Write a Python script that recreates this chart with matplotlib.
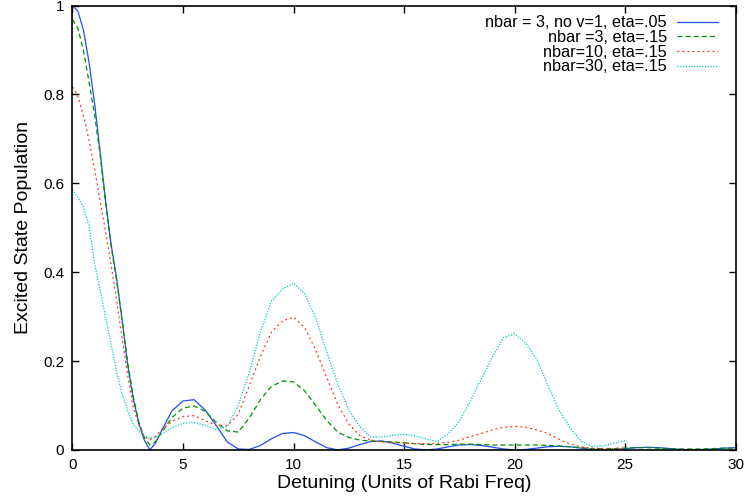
import matplotlib
matplotlib.use("Agg")
import matplotlib.pyplot as plt
import numpy as np

# detuning grid: fine steps through the main lobe, half steps after
detuning = [0, 0.25, 0.5, 0.75, 1.0, 1.25, 1.5, 1.75, 2.0, 2.25, 2.5, 2.75,
            3.0, 3.25, 3.5, 3.75, 4.0, 4.5, 5.0, 5.5, 6.0, 6.5, 7.0, 7.5,
            8.0, 8.5, 9.0, 9.5, 10.0, 10.5, 11.0, 11.5, 12.0, 12.5, 13.0,
            13.5, 14.0, 14.5, 15.0, 15.5, 16.0, 16.5, 17.0, 17.5, 18.0,
            18.5, 19.0, 19.5, 20.0, 20.5, 21.0, 21.5, 22.0, 22.5, 23.0,
            23.5, 24.0, 24.5, 25.0, 25.5, 26.0, 26.5, 27.0, 27.5, 28.0,
            28.5, 29.0, 29.5, 30.0]

pop_n3_eta05 = [1.0, 0.987, 0.944, 0.872, 0.78, 0.672, 0.56, 0.462, 0.385,
                0.29, 0.19, 0.115, 0.06, 0.022, 0.0, 0.015, 0.04, 0.088,
                0.11, 0.113, 0.09, 0.055, 0.018, 0.002, 0.001, 0.01, 0.025,
                0.037, 0.039, 0.032, 0.018, 0.005, 0.0, 0.004, 0.012, 0.019,
                0.02, 0.015, 0.008, 0.002, 0.0, 0.002, 0.007, 0.011, 0.012,
                0.01, 0.006, 0.002, 0.0, 0.001, 0.004, 0.007, 0.008, 0.007,
                0.004, 0.001, 0.0, 0.001, 0.003, 0.005, 0.006, 0.005, 0.003,
                0.001, 0.0, 0.001, 0.002, 0.004, 0.005]

pop_n3_eta15 = [0.969, 0.948, 0.898, 0.828, 0.755, 0.665, 0.555, 0.458,
                0.38, 0.29, 0.195, 0.12, 0.063, 0.027, 0.011, 0.018, 0.037,
                0.073, 0.094, 0.099, 0.087, 0.062, 0.043, 0.04, 0.072,
                0.113, 0.143, 0.155, 0.153, 0.133, 0.1, 0.066, 0.04, 0.028,
                0.022, 0.02, 0.019, 0.018, 0.016, 0.014, 0.012, 0.012,
                0.012, 0.013, 0.013, 0.012, 0.011, 0.011, 0.011, 0.011,
                0.011, 0.01, 0.009, 0.007, 0.005, 0.003, 0.003, 0.003,
                0.004, 0.005, 0.005, 0.004, 0.003, 0.002, 0.002, 0.002,
                0.003, 0.004, 0.004]

# the nbar=10 and nbar=30 runs stop at 25
pop_n10_eta15 = [0.817, 0.795, 0.752, 0.697, 0.632, 0.56, 0.49, 0.416,
                 0.335, 0.25, 0.167, 0.095, 0.057, 0.03, 0.023, 0.03, 0.045,
                 0.064, 0.075, 0.077, 0.066, 0.055, 0.055, 0.08, 0.145,
                 0.21, 0.265, 0.29, 0.299, 0.275, 0.225, 0.163, 0.102,
                 0.058, 0.032, 0.022, 0.018, 0.016, 0.015, 0.014, 0.014,
                 0.015, 0.017, 0.022, 0.03, 0.037, 0.045, 0.051, 0.053,
                 0.051, 0.045, 0.037, 0.024, 0.013, 0.007, 0.004, 0.003,
                 0.003, 0.004]

pop_n30_eta15 = [0.585, 0.568, 0.545, 0.505, 0.42, 0.36, 0.298, 0.237,
                 0.175, 0.125, 0.088, 0.058, 0.042, 0.031, 0.027, 0.028,
                 0.035, 0.05, 0.06, 0.062, 0.055, 0.046, 0.052, 0.1, 0.175,
                 0.265, 0.335, 0.362, 0.375, 0.352, 0.297, 0.22, 0.148,
                 0.09, 0.052, 0.029, 0.029, 0.033, 0.035, 0.032, 0.024,
                 0.019, 0.036, 0.065, 0.11, 0.16, 0.21, 0.253, 0.261, 0.24,
                 0.204, 0.145, 0.09, 0.05, 0.02, 0.008, 0.009, 0.015, 0.021]

labels = ["nbar = 3, no v=1, eta=.05", "nbar =3, eta=.15",
          "nbar=10, eta=.15", "nbar=30, eta=.15"]

plt.rcParams['font.family'] = ['Liberation Sans', 'DejaVu Sans']

fig = plt.figure(figsize=(7.47, 5.01), dpi=100)
ax = fig.add_axes([0.097, 0.102, 0.888, 0.887])

x = np.array(detuning)
n25 = len(pop_n10_eta15)
ax.plot(x, pop_n3_eta05, color='#2050f0', lw=0.9, label=labels[0])
ax.plot(x, pop_n3_eta15, color='#009000', lw=0.9, dashes=(4, 2.5),
        label=labels[1])
ax.plot(x[:n25], pop_n10_eta15, color='#ff3010', lw=0.9, dashes=(1.5, 2.5),
        label=labels[2])
ax.plot(x[:n25], pop_n30_eta15, color='#00c8c8', lw=0.9, dashes=(1, 1.2),
        label=labels[3])

ax.set_xlim(0, 30)
ax.set_ylim(0, 1)
ax.set_xticks([0, 5, 10, 15, 20, 25, 30])
ax.set_yticks([0, 0.2, 0.4, 0.6, 0.8, 1])
ax.set_yticklabels(['0', '0.2', '0.4', '0.6', '0.8', '1'])
ax.tick_params(direction='in', length=5, width=1, top=True, right=True,
               labelsize=11, pad=6)
for s in ax.spines.values():
    s.set_linewidth(1.2)

ax.set_xlabel('Detuning (Units of Rabi Freq)', fontsize=14, labelpad=2)
ax.set_ylabel('Excited State Population', fontsize=14, labelpad=8)

ax.legend(loc='upper right', bbox_to_anchor=(0.988, 1.0), frameon=False,
          markerfirst=False, fontsize=11.7, handlelength=2.55,
          handletextpad=0.6, labelspacing=-0.02, borderaxespad=0.3,
          borderpad=0.3)

fig.savefig('out.png', dpi=100)
